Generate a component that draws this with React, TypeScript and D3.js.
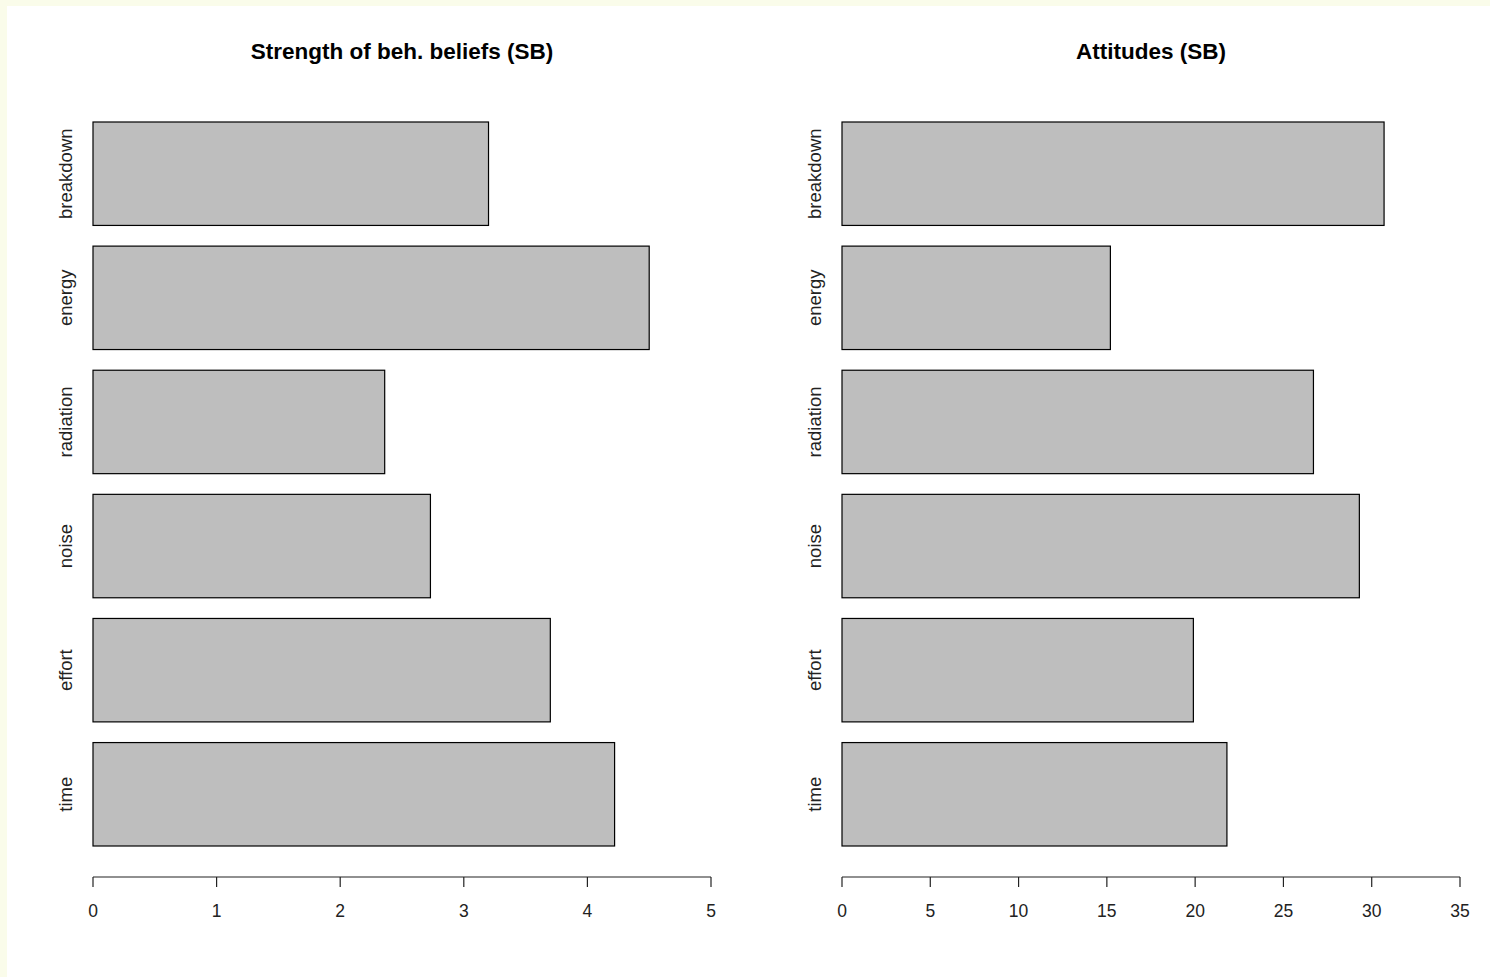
import React from "react";
import * as d3 from "d3";

// Categories listed top to bottom
const categories = ["breakdown", "energy", "radiation", "noise", "effort", "time"];

// Strength of behavioural beliefs per category
const strengthValues = [3.2, 4.5, 2.36, 2.73, 3.7, 4.22];
const strengthTicks = [0, 1, 2, 3, 4, 5];

// Attitudes per category
const attitudeValues = [30.7, 15.2, 26.7, 29.3, 19.9, 21.8];
const attitudeTicks = [0, 5, 10, 15, 20, 25, 30, 35];

const W = 1490;
const H = 977;
const FONT = "'Liberation Sans', Arial, Helvetica, sans-serif";

type PanelProps = {
  title: string;
  values: number[];
  ticks: number[];
  x0: number;
  x1: number;
};

function Panel({ title, values, ticks, x0, x1 }: PanelProps) {
  const x = d3
    .scaleLinear()
    .domain([0, ticks[ticks.length - 1]])
    .range([x0, x1]);
  const y = d3
    .scaleBand<string>()
    .domain(categories)
    .range([122, 846])
    .paddingInner(1 / 6)
    .paddingOuter(0);
  const axisY = 877;
  return (
    <g>
      <text
        x={(x0 + x1) / 2}
        y={59}
        textAnchor="middle"
        fontFamily={FONT}
        fontWeight="bold"
        fontSize={22.5}
        fill="#000"
      >
        {title}
      </text>
      {categories.map((c, i) => {
        const by = y(c)!;
        const bh = y.bandwidth();
        return (
          <g key={c}>
            <rect
              x={x(0)}
              y={by}
              width={x(values[i]) - x(0)}
              height={bh}
              fill="#bebebe"
              stroke="#000"
              strokeWidth={1.2}
            />
            <text
              transform={`translate(${x0 - 21},${by + bh / 2}) rotate(-90)`}
              textAnchor="middle"
              fontFamily={FONT}
              fontSize={18.5}
              fill="#222"
            >
              {c}
            </text>
          </g>
        );
      })}
      <line x1={x(0)} x2={x(ticks[ticks.length - 1])} y1={axisY} y2={axisY} stroke="#222" strokeWidth={1.2} />
      {ticks.map((t) => (
        <g key={t}>
          <line x1={x(t)} x2={x(t)} y1={axisY} y2={axisY + 10} stroke="#222" strokeWidth={1.2} />
          <text
            x={x(t)}
            y={917}
            textAnchor="middle"
            fontFamily={FONT}
            fontSize={17.5}
            fill="#222"
          >
            {t}
          </text>
        </g>
      ))}
    </g>
  );
}

export default function App() {
  return (
    <div style={{ position: "fixed", left: 0, top: 0, width: W, height: H }}>
      <svg width={W} height={H} style={{ display: "block" }}>
        <rect x={0} y={0} width={W} height={H} fill="#fafcea" />
        <rect x={7} y={6} width={W - 7} height={H - 6} fill="#ffffff" />
        <Panel
          title="Strength of beh. beliefs (SB)"
          values={strengthValues}
          ticks={strengthTicks}
          x0={93}
          x1={711}
        />
        <Panel
          title="Attitudes (SB)"
          values={attitudeValues}
          ticks={attitudeTicks}
          x0={842}
          x1={1460}
        />
      </svg>
    </div>
  );
}
